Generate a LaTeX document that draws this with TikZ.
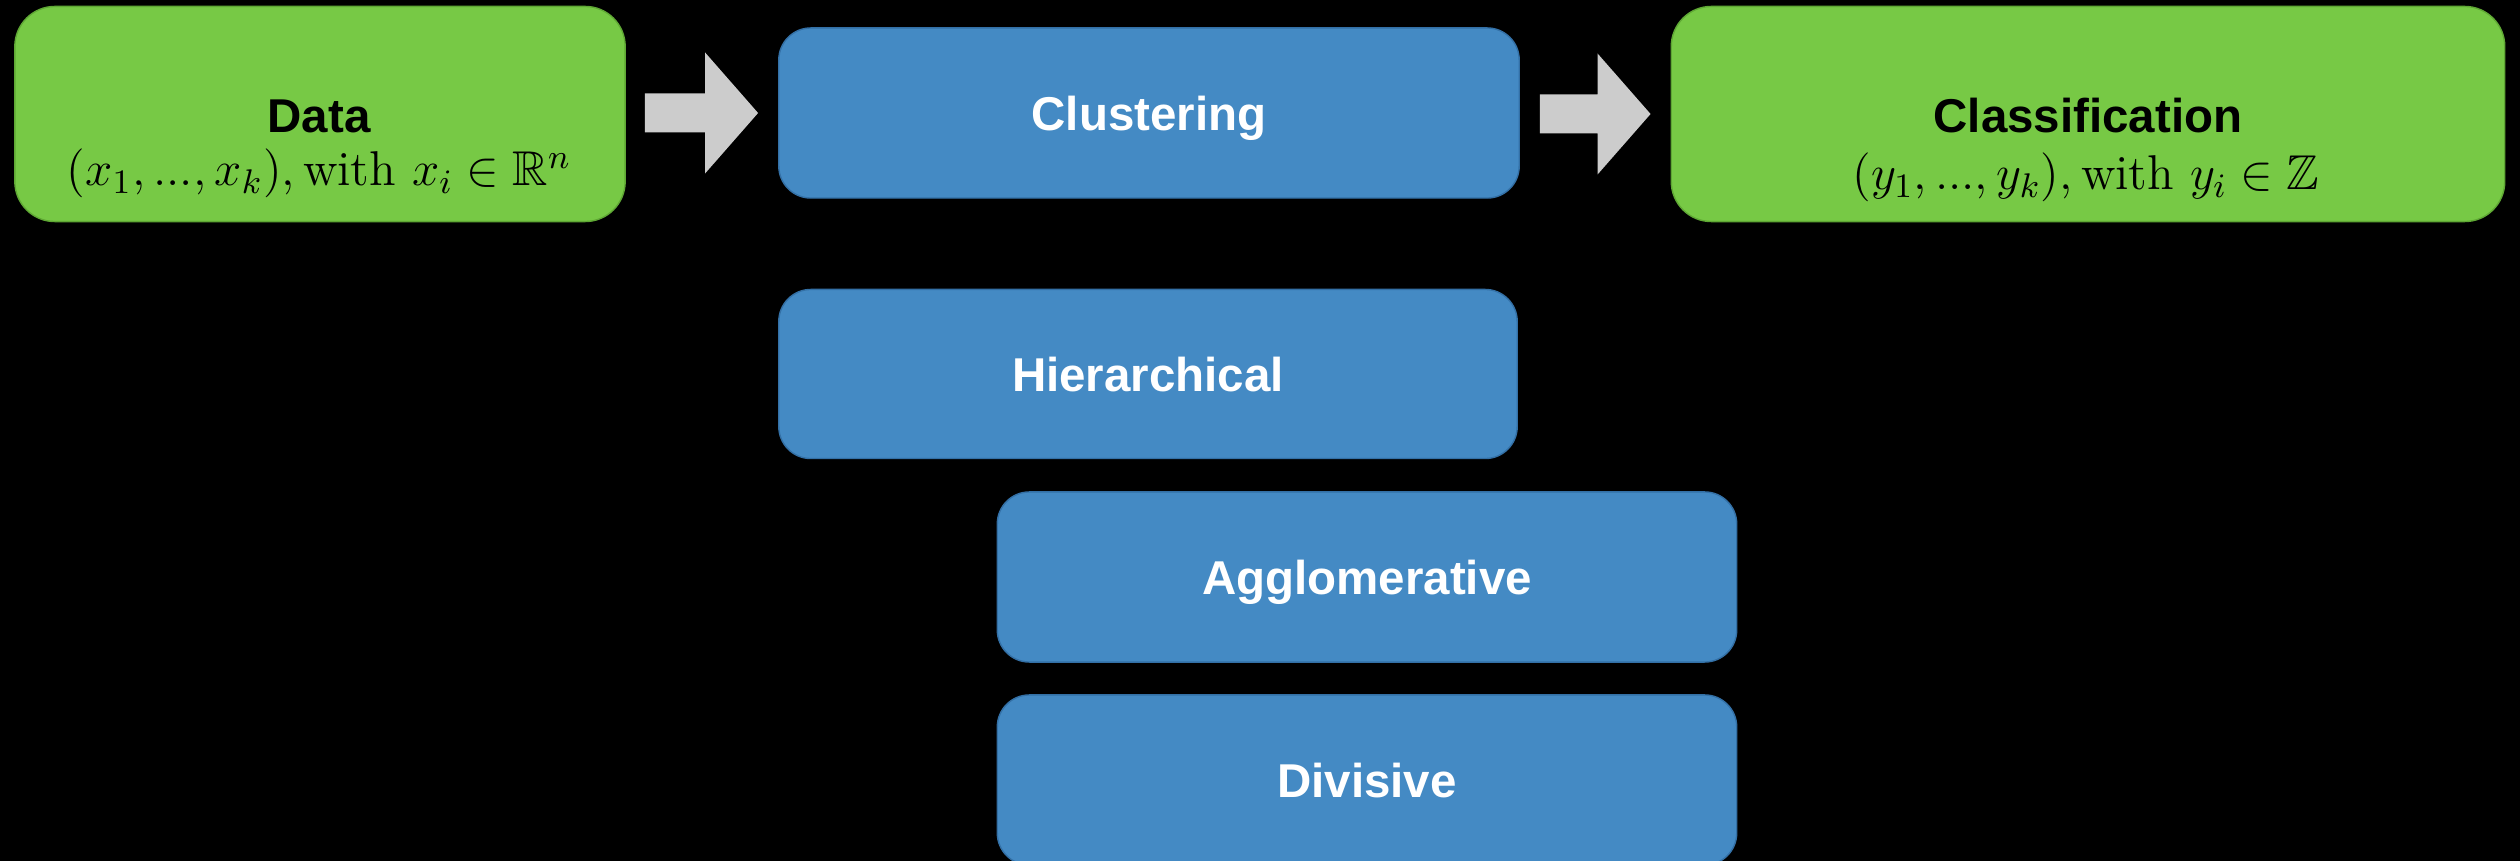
\RequirePackage{fix-cm}
\documentclass[tikz,border=0pt]{standalone}
\usepackage{amssymb}
\usepackage{fontspec}
\newfontfamily\labfont{Liberation Sans}
\usetikzlibrary{calc}
\definecolor{boxgreen}{HTML}{77C945}
\definecolor{boxgreenline}{HTML}{5FA834}
\definecolor{boxblue}{HTML}{448AC4}
\definecolor{boxblueline}{HTML}{3370A6}
\definecolor{arrowgray}{HTML}{CCCCCC}
\tikzset{
  greenbox/.style={fill=boxgreen, draw=boxgreenline, line width=0.4pt, rounded corners=0.4cm, inner sep=0pt},
  bluebox/.style={fill=boxblue, draw=boxblueline, line width=0.4pt, rounded corners=0.32cm, inner sep=0pt, text=white,
     font=\labfont\bfseries\fontsize{13.5}{16}\selectfont, text height=0.34cm, text depth=0pt},
  title/.style={font=\labfont\bfseries\fontsize{13.5}{16}\selectfont, text=black, anchor=base, inner sep=0pt},
  mathtxt/.style={font=\fontsize{13.9}{16}\selectfont, text=black, anchor=base, inner sep=0pt},
  bigarrow/.style={fill=arrowgray, draw=none},
}
\begin{document}
\begin{tikzpicture}[x=0.01cm, y=-0.01cm]
\fill[black] (0,0) rectangle (2520,861);
\useasboundingbox (0,0) rectangle (2520,861);

% boxes
\node[greenbox, minimum width=6.1cm, minimum height=2.15cm] (data) at (320,114) {};
\node[bluebox, minimum width=7.4cm, minimum height=1.70cm] (clus) at (1149,113) {Clustering};
\node[greenbox, minimum width=8.33cm, minimum height=2.15cm] (cls) at (2088,114) {};
\node[bluebox, minimum width=7.38cm, minimum height=1.69cm] (hier) at (1148,374) {Hierarchical};
\node[bluebox, minimum width=7.39cm, minimum height=1.70cm] (agg) at (1367,577) {Agglomerative};
\node[bluebox, minimum width=7.39cm, minimum height=1.70cm] (div) at (1367,780) {Divisive};

% texts in green boxes
\node[title] (dataT) at (319,133) {Data};
\node[mathtxt] (dataM) at (319,186) {$(x_1,...,x_k),\mathrm{with}\ x_i\in\mathbb{R}^n$};
\node[title] (clsT) at (2088,133) {Classification};
\node[mathtxt] (clsM) at (2086,190) {$(y_1,...,y_k),\mathrm{with}\ y_i\in\mathbb{Z}$};

% arrows
\coordinate (a1s) at ($(data.east)+(19,0)$);
\coordinate (a1t) at ($(clus.west)+(-20,0)$);
\fill[bigarrow] ($(a1s |- a1t)+(0,-19.5)$) -- ($(a1t)+(-53,-19.5)$) -- ($(a1t)+(-53,-60.5)$) -- (a1t)
  -- ($(a1t)+(-53,60.5)$) -- ($(a1t)+(-53,19.5)$) -- ($(a1s |- a1t)+(0,19.5)$) -- cycle;
\coordinate (a2s) at ($(clus.east)+(20,0)$);
\coordinate (a2t) at ($(cls.west)+(-20,0)$);
\fill[bigarrow] ($(a2s |- a2t)+(0,-19.5)$) -- ($(a2t)+(-53,-19.5)$) -- ($(a2t)+(-53,-60.5)$) -- (a2t)
  -- ($(a2t)+(-53,60.5)$) -- ($(a2t)+(-53,19.5)$) -- ($(a2s |- a2t)+(0,19.5)$) -- cycle;
\end{tikzpicture}
\end{document}
